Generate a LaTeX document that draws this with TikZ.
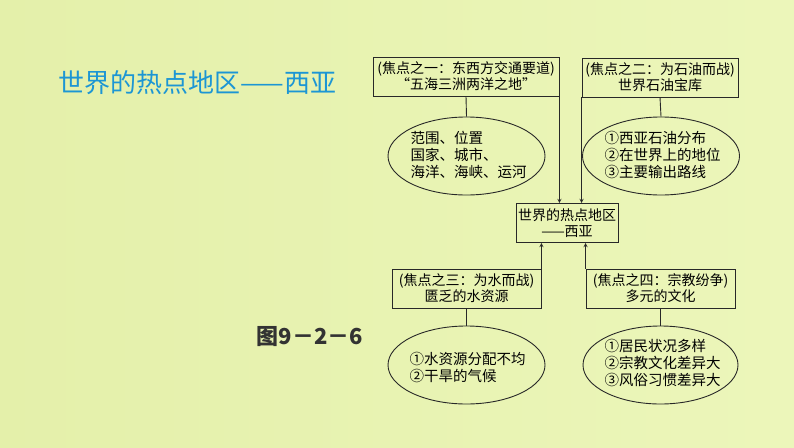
\documentclass[tikz,border=0pt]{standalone}
\usepackage{fontspec}
\setmainfont{Noto Sans CJK SC}
\usetikzlibrary{shapes.geometric}
\definecolor{bgleft}{RGB}{228,240,170}
\definecolor{bgmid}{RGB}{216,237,126}
\definecolor{bgright}{RGB}{236,246,186}
\definecolor{titleblue}{RGB}{28,150,212}
\definecolor{linegray}{RGB}{40,40,40}
\tikzset{
  focusbox/.style={draw=linegray, line width=0.9pt, align=center, inner sep=0pt,
    minimum height=39pt, font=\fontsize{14}{16}\selectfont},
  factoval/.style={draw=linegray, ellipse, line width=0.9pt, inner sep=0pt,
    minimum width=157pt, minimum height=78pt},
  ovaltext/.style={align=left, font=\fontsize{14.5}{17}\selectfont},
  link/.style={linegray, line width=0.9pt},
}
\begin{document}
\begin{tikzpicture}[x=1pt, y=-1pt, >=stealth]
    % Background
    \useasboundingbox (0,0) rectangle (794,447);
    \shade[left color=bgleft, middle color=bgmid, right color=bgright] (0,0) rectangle (794,447);

    % Title
    \node[anchor=west, text=titleblue, font=\fontsize{26}{30}\selectfont] (title) at (55,83) {世界的热点地区——西亚};
    \node[text=black!80, font=\fontsize{22}{26}\selectfont\bfseries] (fig) at (310,337) {图9－2－6};

    % Centre
    \node[focusbox, minimum width=102pt] (hub) at (567,223) {世界的热点地区\\——西亚};

    % Focus boxes
    \node[focusbox, minimum width=186pt] (f1) at (466,76.5) {(焦点之一：东西方交通要道)\\“五海三洲两洋之地”};
    \node[focusbox, minimum width=156pt] (f2) at (660,77.5) {(焦点之二：为石油而战)\\世界石油宝库};
    \node[focusbox, minimum width=149pt] (f3) at (466.5,288.5) {(焦点之三：为水而战)\\匮乏的水资源};
    \node[focusbox, minimum width=149pt] (f4) at (660.5,288.5) {(焦点之四：宗教纷争)\\多元的文化};

    % Ovals
    \node[factoval] (e1) at (466.5,156) {};
    \node[factoval] (e2) at (661,156) {};
    \node[factoval] (e3) at (466.5,365) {};
    \node[factoval, minimum width=155pt] (e4) at (660.5,365) {};
    \node[ovaltext, anchor=west] (t1) at (407,155) {范围、位置\\国家、城市、\\海洋、海峡、运河};
    \node[ovaltext, anchor=west] (t2) at (601,155) {①西亚石油分布\\②在世界上的地位\\③主要输出路线};
    \node[ovaltext, anchor=west] (t3) at (406,367) {①水资源分配不均\\②干旱的气候};
    \node[ovaltext, anchor=west] (t4) at (601,363) {①居民状况多样\\②宗教文化差异大\\③风俗习惯差异大};

    % Lines to ovals
    \draw[link] (f1.south) -- (e1.north);
    \draw[link] (f2.south) -- (e2.north);
    \draw[link] (f3.south) -- (e3.north);
    \draw[link] (f4.south) -- (e4.north);

    % Arrows into the centre
    \draw[link, ->] (f1.south east) -- (f1.south east |- hub.north);
    \draw[link, ->] (f2.south west) -- (f2.south west |- hub.north);
    \draw[link, ->] (f3.north east) -- (f3.north east |- hub.south);
    \draw[link, ->] (f4.north west) -- (f4.north west |- hub.south);
  \end{tikzpicture}
\end{document}
